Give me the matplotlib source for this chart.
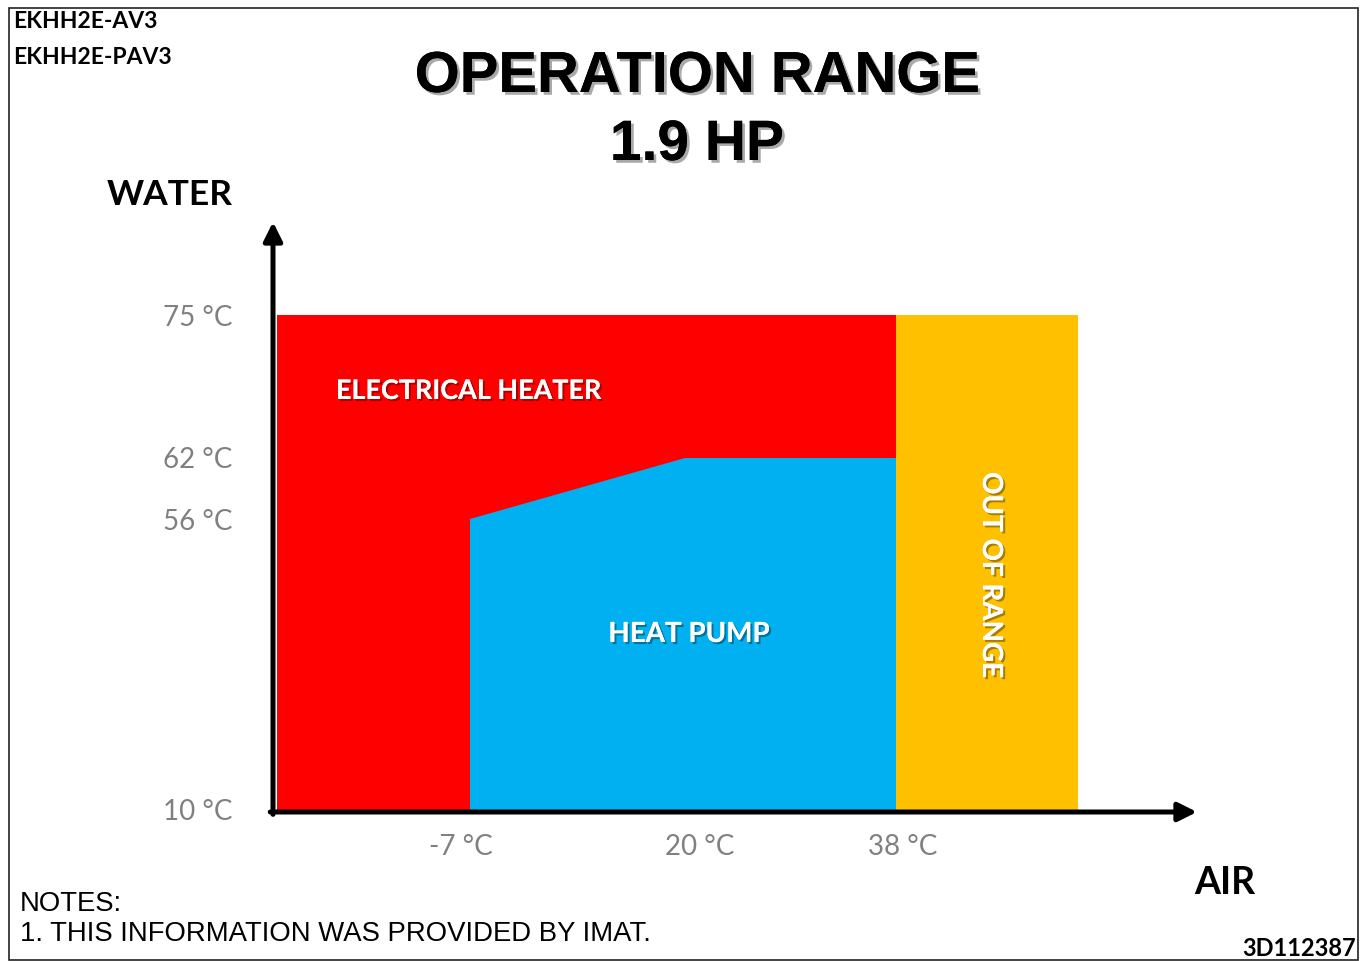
import numpy as np
import matplotlib.pyplot as plt
from matplotlib import patheffects as pe
from matplotlib.patches import Rectangle
from matplotlib.transforms import ScaledTranslation

# ---- data ----
air_ticks = [-7, 20, 38]
air_labels = ['-7 °C', '20 °C', '38 °C']
water_ticks = [10, 56, 62, 75]
water_labels = ['10 °C', '56 °C', '62 °C', '75 °C']
air_min, air_max = -20, 45        # unlabelled ends of the diagram

heater_air = [air_min, 38, 38, air_min]
heater_water = [10, 10, 75, 75]
pump_air = [-7, -7, 20, 38, 38]
pump_water = [10, 56, 62, 62, 10]
out_air = [38, air_max, air_max, 38]
out_water = [10, 10, 75, 75]

RED, BLUE, ORANGE, GREY = '#FF0000', '#00B0F0', '#FFC000', '#808080'

W, H = 1360, 961
# the drawing is not to scale: piecewise linear axes (value -> pixel)
air_knots, air_px = [air_min, -7, 20, 38, air_max], [277, 470, 685, 896, 1078]
water_knots, water_px = [10, 56, 62, 75], [810, 519, 458, 315]


def piecewise(vals, px):
    vals = np.asarray(vals, float)
    px = np.asarray(px, float)
    s0 = (px[1] - px[0]) / (vals[1] - vals[0])
    s1 = (px[-1] - px[-2]) / (vals[-1] - vals[-2])
    v = np.r_[vals[0] - 1e3, vals, vals[-1] + 1e3]
    p = np.r_[px[0] - 1e3 * s0, px, px[-1] + 1e3 * s1]
    return (lambda x: np.interp(x, v, p)), (lambda y: np.interp(y, p, v))


fx, ix = piecewise(air_knots, air_px)
fy, iy = piecewise(water_knots, [-p for p in water_px])


def fig_xy(x, y):
    return x / W, 1 - y / H


calibri = ['Lato', 'DejaVu Sans']
arial = ['Liberation Sans', 'DejaVu Sans']

fig = plt.figure(figsize=(W / 100, H / 100), dpi=100)
ax_l, ax_r, ax_b, ax_t = 273, 1197, 812, 222
ax = fig.add_axes([ax_l / W, 1 - ax_b / H, (ax_r - ax_l) / W, (ax_b - ax_t) / H])
ax.set_xscale('function', functions=(fx, ix))
ax.set_yscale('function', functions=(fy, iy))
ax.set_xlim(ix(ax_l), ix(ax_r))
ax.set_ylim(iy(-ax_b), iy(-ax_t))
ax.patch.set_visible(False)
for s in ax.spines.values():
    s.set_visible(False)

ax.fill(heater_air, heater_water, color=RED, lw=0)
ax.fill(pump_air, pump_water, color=BLUE, lw=0)
ax.fill(out_air, out_water, color=ORANGE, lw=0)

ax.set_xticks(air_ticks, air_labels)
ax.set_yticks(water_ticks, water_labels)
ax.minorticks_off()
ax.tick_params(axis='x', length=0, pad=16, labelsize=20, labelcolor=GREY)
ax.tick_params(axis='y', length=0, pad=29, labelsize=20, labelcolor=GREY)
for lab in ax.get_xticklabels() + ax.get_yticklabels():
    lab.set_family(calibri)
# the sheet's x labels sit a little off their marks
for lab, dx in zip(ax.get_xticklabels(), [-9, 15, 7]):
    lab.set_transform(lab.get_transform() + ScaledTranslation(dx / 100, 0, fig.dpi_scale_trans))

arrow = dict(arrowstyle='-|>', lw=3.6, color='black', shrinkA=0, shrinkB=0,
             mutation_scale=28)
ax.annotate('', xy=(0, 1), xytext=(0, -0.004), xycoords='axes fraction', arrowprops=arrow)
ax.annotate('', xy=(1, 0), xytext=(-0.003, 0), xycoords='axes fraction', arrowprops=arrow)

# zone labels
white_shadow = [pe.withSimplePatchShadow(offset=(1.5, -1.5), shadow_rgbFace='black', alpha=0.35),
                pe.Normal()]
fig.text(*fig_xy(336, 391), 'ELECTRICAL HEATER', color='white', fontsize=19.4, fontweight='bold',
         family=calibri, ha='left', va='center', path_effects=white_shadow)
fig.text(*fig_xy(689, 634), 'HEAT PUMP', color='white', fontsize=20, fontweight='bold',
         family=calibri, ha='center', va='center', path_effects=white_shadow)
fig.text(*fig_xy(991, 575), 'OUT OF RANGE', color='white', fontsize=20, fontweight='bold',
         family=calibri, ha='center', va='center', rotation=-90, path_effects=white_shadow)

# titles
title_shadow = [pe.withSimplePatchShadow(offset=(2, -2), shadow_rgbFace='#555555', alpha=0.5),
                pe.Normal()]
fig.text(*fig_xy(697, 77), 'OPERATION RANGE', fontsize=41.7, fontweight='bold', family=arial,
         ha='center', va='center', path_effects=title_shadow)
fig.text(*fig_xy(697, 145), '1.9 HP', fontsize=41, fontweight='bold', family=arial,
         ha='center', va='center', path_effects=title_shadow)

fig.text(*fig_xy(13, 22), 'EKHH2E-AV3', fontsize=16.5, fontweight='bold', family=calibri,
         ha='left', va='center')
fig.text(*fig_xy(13, 57), 'EKHH2E-PAV3', fontsize=16.5, fontweight='bold', family=calibri,
         ha='left', va='center')
fig.text(*fig_xy(233, 195), 'WATER', fontsize=25.5, fontweight='bold', family=calibri,
         ha='right', va='center')
fig.text(*fig_xy(1255, 883), 'AIR', fontsize=27, fontweight='bold', family=calibri,
         ha='right', va='center')

fig.text(*fig_xy(20, 904), 'NOTES:', fontsize=19.8, family=arial, ha='left', va='center')
fig.text(*fig_xy(20, 934), '1. THIS INFORMATION WAS PROVIDED BY IMAT.', fontsize=19.8,
         family=arial, ha='left', va='center')
fig.text(*fig_xy(1356, 948), '3D112387', fontsize=17, fontweight='bold', family=calibri,
         ha='right', va='center')

# sheet frame
fig.patches.append(Rectangle(fig_xy(9, 960), 1349 / W, 952 / H, transform=fig.transFigure,
                             fill=False, ec='#222222', lw=1.2))

fig.savefig('out.png', dpi=100)
